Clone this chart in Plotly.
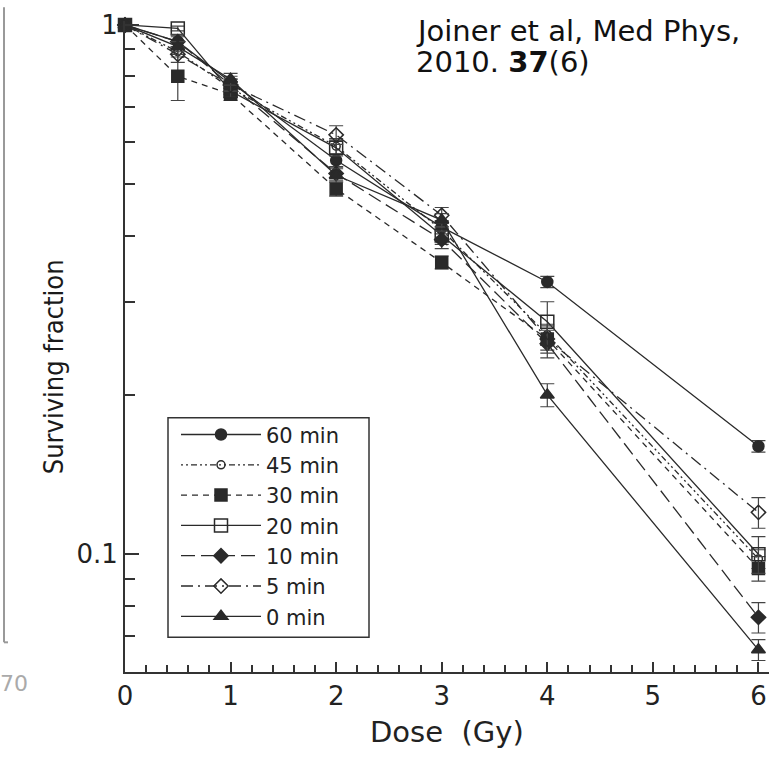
import plotly.graph_objects as go

# Dose points (Gy)
dose = [0, 0.5, 1, 2, 3, 4, 6]

# Surviving fraction for each interval between fractions
sf_60 = [1.0, 0.93, 0.78, 0.555, 0.415, 0.327, 0.160]
sf_45 = [1.0, 0.89, 0.76, 0.590, 0.410, 0.260, 0.098]
sf_30 = [1.0, 0.80, 0.74, 0.490, 0.356, 0.255, 0.094]
sf_20 = [1.0, 0.985, 0.75, 0.586, 0.400, 0.275, 0.100]
sf_10 = [1.0, 0.93, 0.77, 0.524, 0.393, 0.250, 0.076]
sf_5 = [1.0, 0.88, 0.77, 0.620, 0.437, 0.255, 0.120]
sf_0 = [1.0, 0.91, 0.79, 0.520, 0.428, 0.200, 0.066]

# Error bar half-widths
err_60 = [0, 0.02, 0.02, 0.015, 0.012, 0.008, 0.004]
err_45 = [0, 0.02, 0.02, 0.02, 0.015, 0.012, 0.004]
err_30 = [0, 0.08, 0.02, 0.015, 0.01, 0.012, 0.005]
err_20 = [0, 0.01, 0.02, 0.02, 0.015, 0.025, 0.008]
err_10 = [0, 0.03, 0.02, 0.015, 0.015, 0.015, 0.005]
err_5 = [0, 0.03, 0.02, 0.025, 0.015, 0.015, 0.008]
err_0 = [0, 0.02, 0.02, 0.015, 0.012, 0.01, 0.003]

labels = ["60 min", "45 min", "30 min", "20 min", "10 min", "5 min", "0 min"]

INK = "#2a2a2a"
SANS = "DejaVu Sans, Verdana, sans-serif"
NARROW = "DejaVu Sans Condensed, Liberation Sans Narrow, sans-serif"

# Figure geometry (pixels)
W, H = 779, 760
L, R, T, B = 125, 10, 14, 88
PW, PH = W - L - R, H - T - B


def px_x(px):
    return (px - L) / PW


def px_y(py):
    return (H - B - py) / PH


series = [
    (sf_60, err_60, "circle", 11, "solid"),
    (sf_45, err_45, "circle-open", 8, "2px,3px,2px,3px,6px,3px"),
    (sf_30, err_30, "square", 12, "6px,5px"),
    (sf_20, err_20, "square-open", 13, "solid"),
    (sf_10, err_10, "diamond", 11, "14px,6px"),
    (sf_5, err_5, "diamond-open", 11, "12px,5px,2px,5px"),
    (sf_0, err_0, "triangle-up", 12, "solid"),
]

fig = go.Figure()
for (vals, errs, sym, size, dash), name in zip(series, labels):
    fig.add_trace(go.Scatter(
        x=dose, y=vals, name=name, mode="lines+markers", cliponaxis=False,
        line=dict(color=INK, width=1.3, dash=dash),
        marker=dict(symbol=sym, size=size, color=INK,
                    line=dict(color=INK, width=1.5)),
        error_y=dict(type="data", array=errs, visible=True,
                     color="#444", thickness=1.2, width=7),
    ))

tick_font = dict(family=SANS, size=26, color="#222")

fig.update_layout(
    width=W, height=H,
    margin=dict(l=L, r=R, t=T, b=B),
    paper_bgcolor="white", plot_bgcolor="white",
    showlegend=True,
    legend=dict(
        x=px_x(176), y=px_y(637), xanchor="left", yanchor="bottom",
        bgcolor="rgba(255,255,255,0)", borderwidth=0,
        font=dict(family=SANS, size=21, color="#222"),
        itemwidth=80, tracegroupgap=0, traceorder="normal",
    ),
    xaxis=dict(
        range=[0, 6.1], showgrid=False, zeroline=False,
        showline=True, linecolor="#333", linewidth=2,
        ticks="inside", ticklen=10, tickwidth=1.5, tickcolor="#333",
        tickvals=[0, 1, 2, 3, 4, 5, 6], ticktext=["0", "1", "2", "3", "4", "5", "6"],
        minor=dict(ticks="inside", ticklen=7, tickwidth=1.5, tickcolor="#333",
                   dtick=0.2, tick0=0),
        tickfont=tick_font,
    ),
    yaxis=dict(
        type="log", range=[-1.2224, 0.0075], showgrid=False, zeroline=False,
        showline=True, linecolor="#333", linewidth=2,
        ticks="inside", ticklen=14, tickwidth=1.5, tickcolor="#333",
        tickvals=[0.1, 1], ticktext=["0.1", "1"],
        minor=dict(ticks="inside", ticklen=10, tickwidth=1.5, tickcolor="#333",
                   tickvals=[0.07, 0.08, 0.09, 0.2, 0.3, 0.4, 0.5, 0.6, 0.7, 0.8, 0.9]),
        tickfont=tick_font,
    ),
)

# Axis titles
fig.add_annotation(
    xref="paper", yref="paper", x=px_x(447), y=px_y(733),
    xanchor="center", yanchor="middle", showarrow=False,
    text="Dose  (Gy)", font=dict(family=SANS, size=29, color="#222"),
)
fig.add_annotation(
    xref="paper", yref="paper", x=px_x(53), y=px_y(364),
    xanchor="center", yanchor="middle", showarrow=False, textangle=-90,
    text="Surviving fraction", font=dict(family=NARROW, size=27, color="#1a1a1a"),
)

# Legend frame
fig.add_shape(type="rect", xref="paper", yref="paper",
              x0=px_x(168), x1=px_x(369), y0=px_y(637), y1=px_y(415),
              line=dict(color="#333", width=1.5), fillcolor="rgba(0,0,0,0)")

# Reference citation
fig.add_annotation(
    xref="paper", yref="paper", x=px_x(414), y=px_y(24), xanchor="left", yanchor="middle",
    text="Joiner et al, Med Phys,", showarrow=False, align="left",
    font=dict(family=SANS, size=29, color="#111"),
)
fig.add_annotation(
    xref="paper", yref="paper", x=px_x(414), y=px_y(55), xanchor="left", yanchor="middle",
    text="2010. <b>37</b>(6)", showarrow=False, align="left",
    font=dict(family=SANS, size=29, color="#111"),
)

# Edge of the neighbouring panel on the left
fig.add_shape(type="line", xref="paper", yref="paper",
              x0=px_x(4), x1=px_x(4), y0=px_y(0), y1=px_y(642),
              line=dict(color="#999", width=2))
fig.add_shape(type="line", xref="paper", yref="paper",
              x0=px_x(4), x1=px_x(8), y0=px_y(642), y1=px_y(642),
              line=dict(color="#999", width=2))
fig.add_annotation(
    xref="paper", yref="paper", x=px_x(30), y=px_y(684), xanchor="right", yanchor="middle",
    text="70", showarrow=False,
    font=dict(family=SANS, size=22, color="#aaa"),
)

fig.write_html("out.html")
